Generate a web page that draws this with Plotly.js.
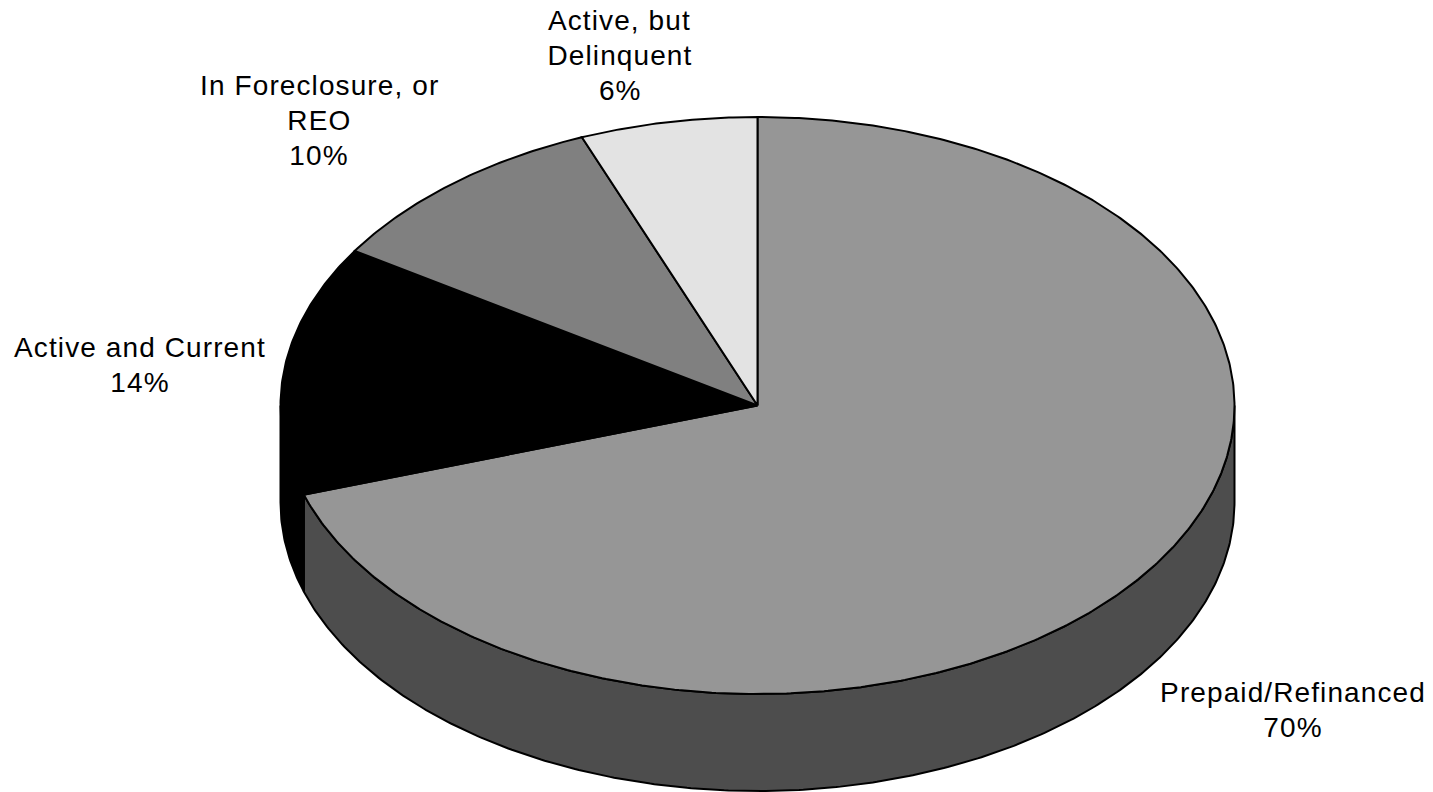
<!DOCTYPE html>
<html>
<head>
<meta charset="utf-8">
<script src="https://cdn.plot.ly/plotly-3.0.1.min.js"></script>
<style>
html,body{margin:0;padding:0;background:#fff}
#chart{width:1433px;height:792px}
#chart .annotation-text{letter-spacing:1.1px}
</style>
</head>
<body>
<div id="chart"></div>
<script>
// Mortgage status shares, clockwise from twelve o'clock
var categories = ['Prepaid/Refinanced', 'Active and Current', 'In Foreclosure, or REO', 'Active, but Delinquent'];
var shares = [70, 14, 10, 6];
var topColors = ['#969696', '#000000', '#808080', '#e3e3e3'];
var sideColors = ['#4d4d4d', '#000000', '#404040', '#717171'];
var labelLines = [
  ['Prepaid/Refinanced', '70%'],
  ['Active and Current', '14%'],
  ['In Foreclosure, or', 'REO', '10%'],
  ['Active, but', 'Delinquent', '6%']
];

// Tilted-disc geometry, in axis units (the axes span the page one-to-one)
var disc = {cx: 757.5, cy: 405.5, rx: 477, ry: 288.5, depth: 97};
var labelAnchors = [[1292.5, 692], [140, 347], [319, 85], [619.5, 20]];
var lineStep = 35;
var fontSize = 28;

function rimPoint(deg, drop) {
  var a = deg * Math.PI / 180;
  return [disc.cx + disc.rx * Math.sin(a), disc.cy - disc.ry * Math.cos(a) + drop];
}
function arc(from, to, drop) {
  var pts = [], n = Math.max(2, Math.ceil(Math.abs(to - from) * 2));
  for (var i = 0; i <= n; i++) pts.push(rimPoint(from + (to - from) * i / n, drop));
  return pts;
}
function polygon(pts, fill, width) {
  // Repeat the first vertex so the outline closes along with the fill
  var closed = pts.concat([pts[0]]);
  return {
    type: 'scatter', mode: 'lines', hoverinfo: 'skip', showlegend: false,
    x: closed.map(function (p) { return p[0]; }),
    y: closed.map(function (p) { return p[1]; }),
    fill: 'toself', fillcolor: fill,
    line: {color: '#000000', width: width, shape: 'linear'}
  };
}

var total = shares.reduce(function (s, v) { return s + v; }, 0);
var walls = [], tops = [], start = 0;
shares.forEach(function (v, i) {
  var end = start + v / total * 360;
  // The side wall is only visible along the near half of the rim
  var from = Math.max(start, 90), to = Math.min(end, 270);
  if (to > from) {
    walls.push(polygon(arc(from, to, 0).concat(arc(to, from, disc.depth)), sideColors[i], 2));
  }
  tops.push(polygon([[disc.cx, disc.cy]].concat(arc(start, end, 0)), topColors[i], 2));
  start = end;
});

var annotations = [];
labelLines.forEach(function (lines, i) {
  lines.forEach(function (text, j) {
    annotations.push({
      xref: 'x', yref: 'y', x: labelAnchors[i][0], y: labelAnchors[i][1] + j * lineStep,
      text: text, showarrow: false, xanchor: 'center', yanchor: 'middle',
      font: {family: '"Liberation Sans", Arial, sans-serif', size: fontSize, color: '#000000'}
    });
  });
});

Plotly.newPlot('chart', walls.concat(tops), {
  width: 1433, height: 792,
  margin: {l: 0, r: 0, t: 0, b: 0},
  paper_bgcolor: '#ffffff', plot_bgcolor: '#ffffff',
  xaxis: {range: [0, 1433], visible: false, fixedrange: true},
  yaxis: {range: [792, 0], visible: false, fixedrange: true},
  annotations: annotations
}, {displayModeBar: false, staticPlot: true});
</script>
</body>
</html>
